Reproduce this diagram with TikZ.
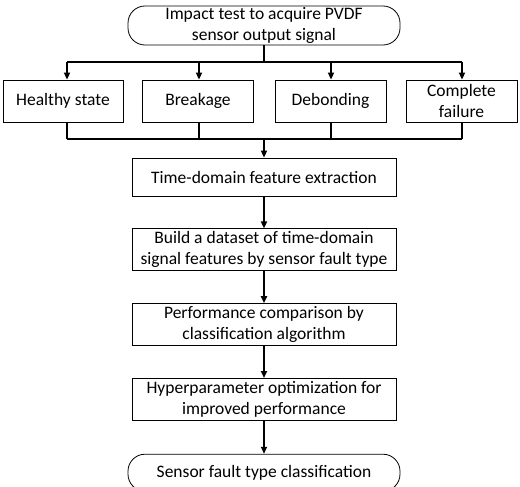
\documentclass[tikz,border=0pt]{standalone}
\usepackage{fontspec}
\setmainfont{Carlito}
\usepackage{tikz}
\usetikzlibrary{arrows.meta,positioning}

\begin{document}
\begin{tikzpicture}
[->,>={Triangle[length=7pt,width=6pt]},x=1pt,y=1pt,line width=1.7pt,
 font=\fontsize{17.5pt}{21pt}\selectfont,node distance=32pt]
\tikzstyle{terminal}=[draw,line width=0.8pt,rounded corners=17pt,align=center,
 minimum width=272pt,inner sep=1pt]
\tikzstyle{stepbox}=[draw,line width=0.8pt,align=center,minimum width=264pt,
 minimum height=42pt,inner sep=1pt]
\tikzstyle{fault}=[draw,line width=0.8pt,align=center,minimum width=111pt,
 minimum height=42pt,inner sep=1pt]
\useasboundingbox (0,0) rectangle (520,-487);
\node[terminal,minimum height=39pt] (start) at (264,-25.5) {Impact test to acquire PVDF\\sensor output signal};
\node[fault,minimum width=120pt] (h) at (63,-101) {Healthy state};
\node[fault] (b) at (198,-101) {Breakage};
\node[fault] (d) at (330.5,-101) {Debonding};
\node[fault] (c) at (461.5,-101) {Complete\\failure};
\node[stepbox,minimum height=38pt] (tde) at (264,-177) {Time-domain feature extraction};
\node[stepbox] (ds) [below=of tde] {Build a dataset of time-domain\\signal features by sensor fault type};
\node[stepbox] (perf) [below=of ds] {Performance comparison by\\classification algorithm};
\node[stepbox] (hyp) [below=of perf] {Hyperparameter optimization for\\improved performance};
\node[terminal,minimum height=37pt] (stop) [below=33pt of hyp] {Sensor fault type classification};

% split to the four fault types
\coordinate (split) at (264,-62);
\coordinate (join) at (264,-139);
\draw[-] (start) -- (split);
\draw[-] ([xshift=4pt]h.north |- split) -- (c.north |- split);
\foreach \n/\dx in {h/4pt,b/1pt,d/0.5pt,c/0.5pt}
  \draw ([xshift=\dx]\n.north |- split) -- ([xshift=\dx]\n.north);
\foreach \n/\dx in {h/4pt,b/1pt,d/0.5pt,c/0.5pt}
  \draw[-] ([xshift=\dx]\n.south) -- ([xshift=\dx]\n.south |- join);
\draw[-] ([xshift=4pt]h.south |- join) -- (c.south |- join);
\draw (join) -- (tde);

\path (tde) edge (ds)
      (ds) edge (perf)
      (perf) edge (hyp)
      (hyp) edge (stop);
\end{tikzpicture}
\end{document}
